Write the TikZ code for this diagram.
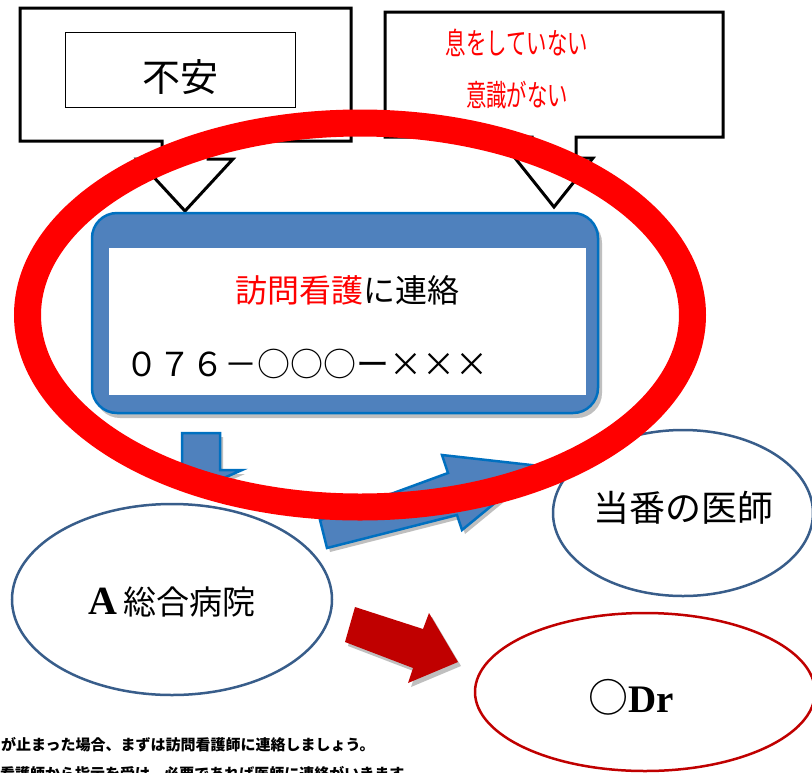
\documentclass[tikz,border=0pt]{standalone}
\usepackage{fontspec}
\usetikzlibrary{shapes.geometric}
\newfontfamily\jp{Noto Sans CJK JP}
\newfontfamily\lserif{Liberation Serif}
\definecolor{boxblue}{RGB}{79,129,189}
\definecolor{edgeblue}{RGB}{0,112,192}
\definecolor{ellblue}{RGB}{56,93,138}
\definecolor{darkred}{RGB}{192,0,0}
\definecolor{ringred}{RGB}{255,0,0}
\tikzset{
  callout/.style={draw=black,line width=3pt,fill=white,line join=miter},
  blockarrow/.style={draw=edgeblue,line width=2.5pt,fill=boxblue,line join=miter},
  shadowfill/.style={fill=black!45,opacity=0.55},
  bubble/.style={ellipse,draw=ellblue,line width=2.5pt,fill=white,inner sep=0pt},
  redbubble/.style={ellipse,draw=darkred,line width=2.5pt,fill=white,inner sep=0pt},
  ring/.style={draw=ringred,line width=27pt},
}
\begin{document}
\begin{tikzpicture}[x=1pt,y=-1pt]
\useasboundingbox (0,0) rectangle (812,772);
\clip (0,0) rectangle (812,772);
\fill[white] (0,0) rectangle (812,772);

% left callout
\draw[callout] (20,8) -- (351,8) -- (351,141) -- (208,141) -- (208,159) -- (233,159)
  -- (185,211) -- (137,159) -- (162,159) -- (162,141) -- (20,141) -- cycle;
\node[draw=black,line width=0.8pt,minimum width=230pt,minimum height=75pt,inner sep=0pt] (fuanbox) at (180,69.5) {};
\node (fuan) at (180,77) {\jp\fontsize{38}{40}\selectfont 不安};

% right callout
\draw[callout] (385,12) -- (723,12) -- (723,137) -- (576,137) -- (576,158) -- (593,158)
  -- (554,207) -- (515,158) -- (532,158) -- (532,137) -- (385,137) -- cycle;
\node[text=ringred] (breath) at (517,43) {\jp\fontsize{30}{32}\selectfont\scalebox{0.68}[1]{息をしていない}};
\node[text=ringred] (conscious) at (517,95) {\jp\fontsize{30}{32}\selectfont\scalebox{0.68}[1]{意識がない}};

% blue box
\fill[shadowfill,rounded corners=25pt] (95,218) rectangle (602,418);
\draw[blockarrow,rounded corners=25pt] (92,213) rectangle (598,413);
\node[fill=white,minimum width=477pt,minimum height=147pt,inner sep=0pt] (inner) at (347.5,321.5) {};
\node (call) at (347,290) {\jp\fontsize{32}{34}\selectfont\textcolor{ringred}{訪問看護}に連絡};
\node[anchor=west,inner sep=0pt] (phone) at (125,364) {\jp\fontsize{33}{35}\selectfont ０７６－○○○ー×××};

% blue down arrow
\fill[shadowfill] (185,437) -- (223,437) -- (223,474) -- (245,474) -- (204,492) -- (163,474) -- (185,474) -- cycle;
\draw[blockarrow] (182,433) -- (220,433) -- (220,470) -- (242,470) -- (201,488) -- (160,470) -- (182,470) -- cycle;

% blue right arrow
\fill[shadowfill] (323,524) -- (451,477) -- (445,459) -- (543,470) -- (465,534) -- (460,519) -- (330,552) -- cycle;
\draw[blockarrow] (320,520) -- (448,473) -- (442,455) -- (540,466) -- (462,530) -- (457,515) -- (327,548) -- cycle;

% red arrow
\fill[shadowfill] (358,611) -- (426,633) -- (432,617) -- (461,666) -- (411,687) -- (416,672) -- (348,646) -- cycle;
\fill[darkred] (355,607) -- (423,629) -- (429,613) -- (458,662) -- (408,683) -- (413,668) -- (345,642) -- cycle;

% ellipses
\node[bubble,minimum width=320pt,minimum height=191pt] (hosp) at (172,599.5) {};
\node (hosptext) at (172,602) {\lserif\bfseries\fontsize{40}{42}\selectfont A\,\jp\mdseries\fontsize{33}{35}\selectfont 総合病院};
\node[bubble,minimum width=260pt,minimum height=166pt] (duty) at (683,513) {};
\node (dutytext) at (683,508) {\jp\fontsize{36}{38}\selectfont 当番の医師};
\node[redbubble,minimum width=340pt,minimum height=158pt] (dr) at (645,692) {};
\node (drtext) at (631,697) {\jp\fontsize{40}{42}\selectfont ○\lserif\bfseries\fontsize{39}{41}\selectfont Dr};

% red ring
\draw[ring] (360,315) ellipse [x radius=332.5pt, y radius=192pt];

% bottom text
\node[anchor=west,inner sep=0pt] (note1) at (1,745) {\jp\bfseries\fontsize{15}{17}\selectfont が止まった場合、まずは訪問看護師に連絡しましょう。};
\node[anchor=west,inner sep=0pt] (note2) at (0,774) {\jp\bfseries\fontsize{15}{17}\selectfont 看護師から指示を受け、必要であれば医師に連絡がいきます。};
\end{tikzpicture}
\end{document}
